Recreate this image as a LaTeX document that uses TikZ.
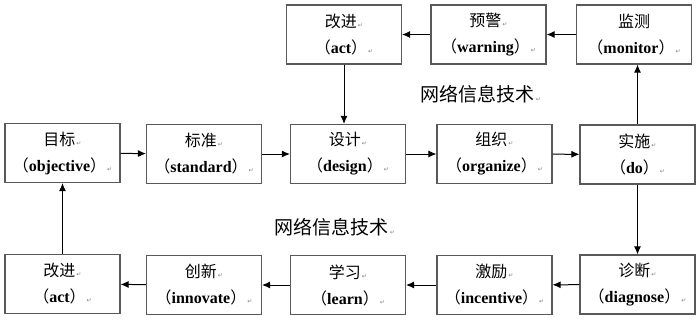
\documentclass[tikz,border=0pt]{standalone}
\usepackage{fontspec}
\setmainfont{Liberation Serif}
\newfontfamily\cjk{Noto Sans CJK SC}
\newfontfamily\symfont{DejaVu Sans}
\usetikzlibrary{arrows.meta}
\newcommand{\parmark}{{\symfont\color{gray}\fontsize{6}{6}\selectfont\,↵}}
\newcommand{\en}[1]{{\cjk （}\textbf{#1}{\cjk ）}}

\begin{document}
\begin{tikzpicture}[x=1pt,y=-1pt,>={Latex[length=8pt,width=7pt]},
  stage/.style={draw=black!65,line width=1.1pt,fill=white,minimum width=115pt,minimum height=59pt,
    align=center,inner sep=0pt,font=\fontsize{16}{26}\selectfont},
  flow/.style={->,line width=1pt},
  tech/.style={font=\cjk\fontsize{19}{22}\selectfont}]
\useasboundingbox (0,0) rectangle (700,319);
% ==================== TOP ROW ====================
\node[stage] (act1) at (344,34.5) {{\cjk 改进}\parmark\\\en{act}\parmark};
\node[stage] (warn) at (488.5,34.5) {{\cjk 预警}\parmark\\\en{warning}\parmark};
\node[stage] (moni) at (634,34.5) {{\cjk 监测}\\\en{monitor}\parmark};
% ==================== MIDDLE ROW ====================
\node[stage] (obj) at (62.5,153) {{\cjk 目标}\parmark\\\en{objective}\parmark};
\node[stage] (stan) at (204,154) {{\cjk 标准}\parmark\\\en{standard}\parmark};
\node[stage] (desi) at (348,154) {{\cjk 设计}\parmark\\\en{design}\parmark};
\node[stage] (orga) at (494.5,154) {{\cjk 组织}\parmark\\\en{organize}\parmark};
\node[stage] (do) at (637.5,154.5) {{\cjk 实施}\parmark\\\en{do}\parmark};
% ==================== BOTTOM ROW ====================
\node[stage] (act2) at (62.5,284) {{\cjk 改进}\parmark\\\en{act}\parmark};
\node[stage] (inno) at (204,285) {{\cjk 创新}\parmark\\\en{innovate}\parmark};
\node[stage] (lear) at (348,285) {{\cjk 学习}\parmark\\\en{learn}\parmark};
\node[stage] (ince) at (494.5,285) {{\cjk 激励}\parmark\\\en{incentive}\parmark};
\node[stage] (diag) at (637.5,284.5) {{\cjk 诊断}\parmark\\\en{diagnose}\parmark};
% Labels
\node[tech] (tech1) at (481,94) {网络信息技术\parmark};
\node[tech] (tech2) at (335,227) {网络信息技术\parmark};
% Connectors
\draw[flow] (obj) -- (stan);
\draw[flow] (stan) -- (desi);
\draw[flow] (desi) -- (orga);
\draw[flow] (orga) -- (do);
\draw[flow] (do.north) -- (do.north |- moni.south);
\draw[flow] (moni) -- (warn);
\draw[flow] (warn) -- (act1);
\draw[flow] (act1.south) -- (act1.south |- desi.north);
\draw[flow] (do.south) -- (do.south |- diag.north);
\draw[flow] (diag) -- (ince);
\draw[flow] (ince) -- (lear);
\draw[flow] (lear) -- (inno);
\draw[flow] (inno) -- (act2);
\draw[flow] (act2) -- (obj);
\end{tikzpicture}
\end{document}
